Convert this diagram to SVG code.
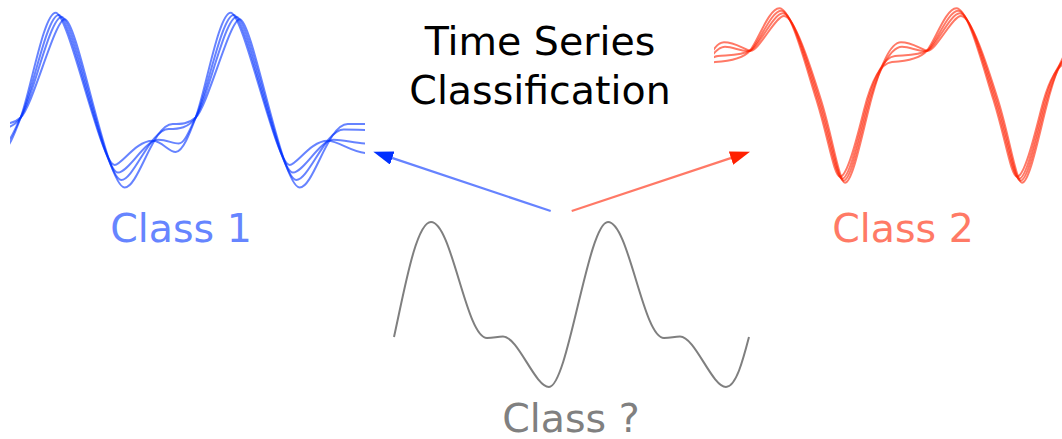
<svg xmlns="http://www.w3.org/2000/svg" width="1062" height="439" viewBox="0 0 1062 439">
<style>
text{font-family:"DejaVu Sans","Liberation Sans",sans-serif;font-size:39.5px;text-anchor:middle}
.b{fill:none;stroke:#0030ff;stroke-opacity:0.6;stroke-width:2}
.r{fill:none;stroke:#ff2000;stroke-opacity:0.6;stroke-width:2}
.g{fill:none;stroke:#7f7f7f;stroke-width:2}
</style>
<defs>
<clipPath id="cb"><rect x="10" y="0" width="355" height="220"/></clipPath>
<clipPath id="cr"><rect x="714" y="0" width="348" height="200"/></clipPath>
<marker id="hb" viewBox="0 -7 20 14" refX="2" refY="0" markerWidth="20" markerHeight="14" markerUnits="userSpaceOnUse" orient="auto"><path d="M0,-7 L20,0 L0,7 Z" fill="#0030ff"/></marker>
<marker id="hr" viewBox="0 -7 20 14" refX="2" refY="0" markerWidth="20" markerHeight="14" markerUnits="userSpaceOnUse" orient="auto"><path d="M0,-7 L20,0 L0,7 Z" fill="#ff2000"/></marker>
</defs>
<g id="title"><text x="540" y="55">Time Series</text><text x="540" y="104">Classification</text></g>
<g id="class1">
<g clip-path="url(#cb)"><g transform="translate(20.7,0)">
<path class="b" d="M-20,152 C-13,152 -6,133.7 0,117.5 C10,90.5 23,12.7 35,12.7 C48,12.7 80,165 94,165 C101,165 115,140.8 132,140.8 C141,140.8 148,152 155,152 C162,152 169,133.7 175,117.5 C185,90.5 198,12.7 210,12.7 C223,12.7 255,165 269,165 C276,165 290,140.8 307,140.8 C318,140.8 332,153 346,153"/>
<path class="b" d="M-17,143.5 C-11,143.5 -7,131.5 0,117.5 C11,95.5 26,14.9 38,14.9 C51,14.9 82,172.5 97.3,172.5 C108,172.5 124,139.8 138,139.8 C146,139.8 152,143.5 158,143.5 C164,143.5 168,131.5 175,117.5 C186,95.5 201,14.9 213,14.9 C226,14.9 257,172.5 272.3,172.5 C283,172.5 299,139.8 313,139.8 C324,139.8 334,143.5 346,143.5"/>
<path class="b" d="M-27,129 C-17,129 -7,128 0,117.5 C12,99.5 29,17.1 41,17.1 C54,17.1 84,180 100.6,180 C113,180 130,129 148,129 C158,129 168,128 175,117.5 C187,99.5 204,17.1 216,17.1 C229,17.1 259,180 275.6,180 C288,180 305,129.5 323,129.5 C333,129.5 340,130 346,130"/>
<path class="b" d="M-23,124 C-15,124 -7,123.9 0,117.5 C12,106.7 34,19.3 44,19.3 C57,19.3 86,187.5 104,187.5 C118,187.5 132,124 152,124 C160,124 168,123.9 175,117.5 C187,106.7 209,19.3 219,19.3 C232,19.3 261,187.5 279,187.5 C293,187.5 307,124 327,124 L346,124"/>
</g></g>
<text x="181" y="241.7" fill="#6685ff">Class 1</text>
</g>
<g id="class2">
<g clip-path="url(#cr)"><g transform="translate(750,0)">
<path class="r" d="M-63,110 C-55,78 -45,63 -35,62 C-25,61.5 -8,60.3 0,50.7 C8,41 19,8.3 29.3,8.3 C41,8.3 54.5,61.6 66.5,100 C78.5,138.4 84,176.7 90,176.7 C97,176.7 106,142 114,110 C122,78 132,63 142,62 C152,61.5 169,60.3 177,50.7 C185,41 196,8.3 206.3,8.3 C218,8.3 231.5,61.6 243.5,100 C255.5,138.4 261,176.7 267,176.7 C274,176.7 283,142 291,110 C299,78 309,63 319,62"/>
<path class="r" d="M-61.5,110 C-53.5,78 -44,57 -32,56 C-22,55 -8,55.5 0,50.7 C8,45.9 21,10.7 31,10.7 C42,10.7 56,61.6 68,100 C80,138.4 86,178.7 92,178.7 C99,178.7 107.5,142 115.5,110 C123.5,78 133,57 145,56 C155,55 169,55.5 177,50.7 C185,45.9 198,10.7 208,10.7 C219,10.7 233,61.6 245,100 C257,138.4 263,178.7 269,178.7 C276,178.7 284.5,142 292.5,110 C300.5,78 310,57 322,56"/>
<path class="r" d="M-60,110 C-52,78 -38,46.7 -25,46.7 C-16,46.7 -8,52.3 0,50.7 C8,49.1 23,13.3 32.7,13.3 C43,13.3 57.5,61.6 69.5,100 C81.5,138.4 87.5,180.7 93.5,180.7 C100.5,180.7 109,142 117,110 C125,78 139,46.7 152,46.7 C161,46.7 169,52.3 177,50.7 C185,49.1 200,13.3 209.7,13.3 C220,13.3 234.5,61.6 246.5,100 C258.5,138.4 264.5,180.7 270.5,180.7 C277.5,180.7 286,142 294,110 C302,78 316,46.7 329,46.7"/>
<path class="r" d="M-58.5,110 C-50.5,78 -39,42.3 -26,42.3 C-15,42.3 -8,48.3 0,50.7 C8,53.1 25,16 34,16 C44,16 59,61.6 71,100 C83,138.4 89,182.7 95,182.7 C102,182.7 110.5,142 118.5,110 C126.5,78 138,42.3 151,42.3 C162,42.3 169,48.3 177,50.7 C185,53.1 202,16 211,16 C221,16 236,61.6 248,100 C260,138.4 266,182.7 272,182.7 C279,182.7 287.5,142 295.5,110 C303.5,78 315,42.3 328,42.3"/>
</g></g>
<text x="903" y="241.7" fill="#ff7a66">Class 2</text>
</g>
<g id="unknown">
<path class="g" d="M394,337 C404,292 416,222 431,222 C452,222 466,338 487,338 C494,338 497,336.5 503,336.5 C518,336.5 535,387 549,387 C568,387 588,222 608,222 C629,222 643,338 664,338 C671,338 674,336.5 680,336.5 C695,336.5 712,387 726,387 C736,387 743,360 749,337"/>
<text x="571" y="431.5" fill="#808080">Class ?</text>
</g>
<g id="connectors">
<path d="M550.7,211 L390.4,157.4" fill="none" stroke="#0030ff" stroke-opacity="0.6" stroke-width="2.2" marker-end="url(#hb)"/>
<path d="M571.7,211 L732.9,157.4" fill="none" stroke="#ff2000" stroke-opacity="0.6" stroke-width="2.2" marker-end="url(#hr)"/>
</g>
</svg>
